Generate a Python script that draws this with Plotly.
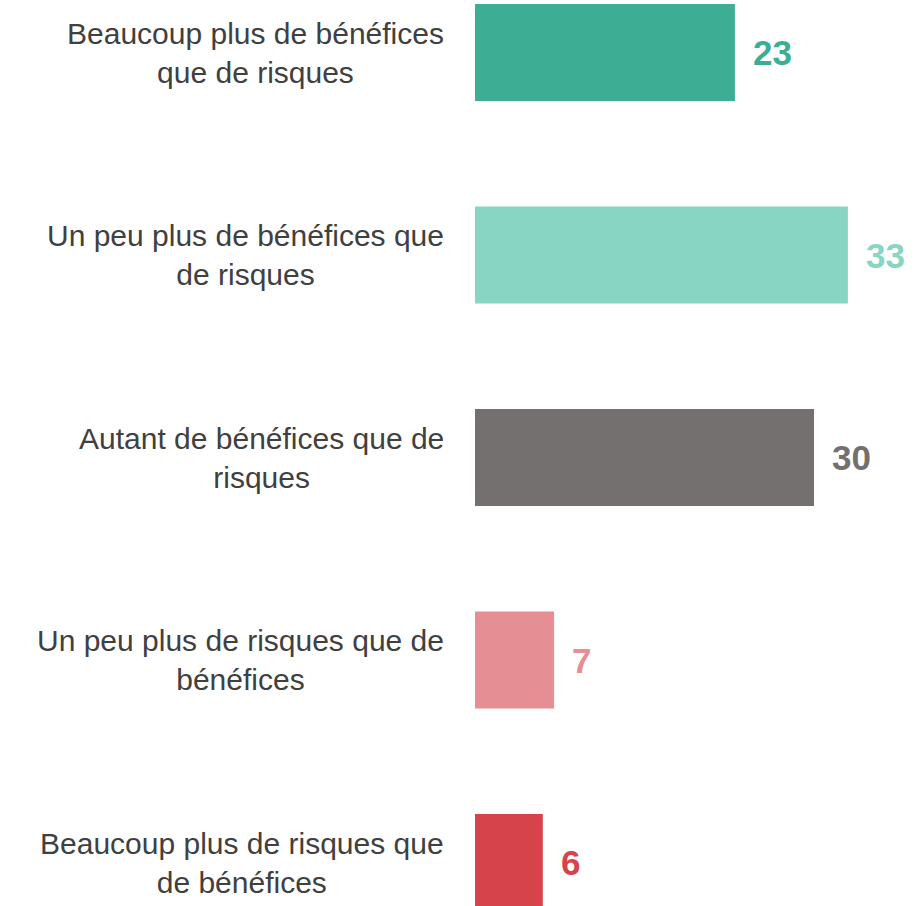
import plotly.graph_objects as go

# data
categories = [
    "Beaucoup plus de bénéfices<br>que de risques",
    "Un peu plus de bénéfices que<br>de risques",
    "Autant de bénéfices que de<br>risques",
    "Un peu plus de risques que de<br>bénéfices",
    "Beaucoup plus de risques que<br>de bénéfices",
]
values = [23, 33, 30, 7, 6]
colors = ["#3DAE94", "#88D5C4", "#757070", "#E58E93", "#D6434A"]

FONT = "Liberation Sans"

fig = go.Figure()
fig.add_trace(go.Bar(
    x=values,
    y=list(range(len(values))),
    orientation="h",
    marker=dict(color=colors, line=dict(width=0)),
    width=0.48,
    hoverinfo="skip",
))

# category labels left of the bars
for i, cat in enumerate(categories):
    fig.add_annotation(
        x=0, y=i, xref="x", yref="y", text=cat, showarrow=False,
        xanchor="right", yanchor="middle", align="center", xshift=-29,
        font=dict(family=FONT, size=30, color="#404040"),
    )

# value labels after the bars
for i, v in enumerate(values):
    fig.add_annotation(
        x=v, y=i, xref="x", yref="y", text=f"<b>{v}</b>", showarrow=False,
        xanchor="left", yanchor="middle", xshift=16,
        font=dict(family=FONT, size=35, color=colors[i]),
    )

W, H = 914, 906
zero_px = 475
px_per_unit = 11.3
first_center = 52.5
pitch = 202.5

fig.update_layout(
    width=W, height=H,
    margin=dict(l=0, r=0, t=0, b=0),
    paper_bgcolor="white", plot_bgcolor="white",
    showlegend=False,
    font=dict(family=FONT),
    xaxis=dict(range=[-zero_px / px_per_unit, (W - zero_px) / px_per_unit],
               visible=False, fixedrange=True),
    yaxis=dict(range=[4 + (H - first_center - 4 * pitch) / pitch, -first_center / pitch],
               visible=False, fixedrange=True),
)

# drop the default page margin so the figure fills the window
fig.write_html(
    "out.html",
    config={"displayModeBar": False},
    post_script="document.body.style.margin='0';document.body.style.overflow='hidden';",
)
